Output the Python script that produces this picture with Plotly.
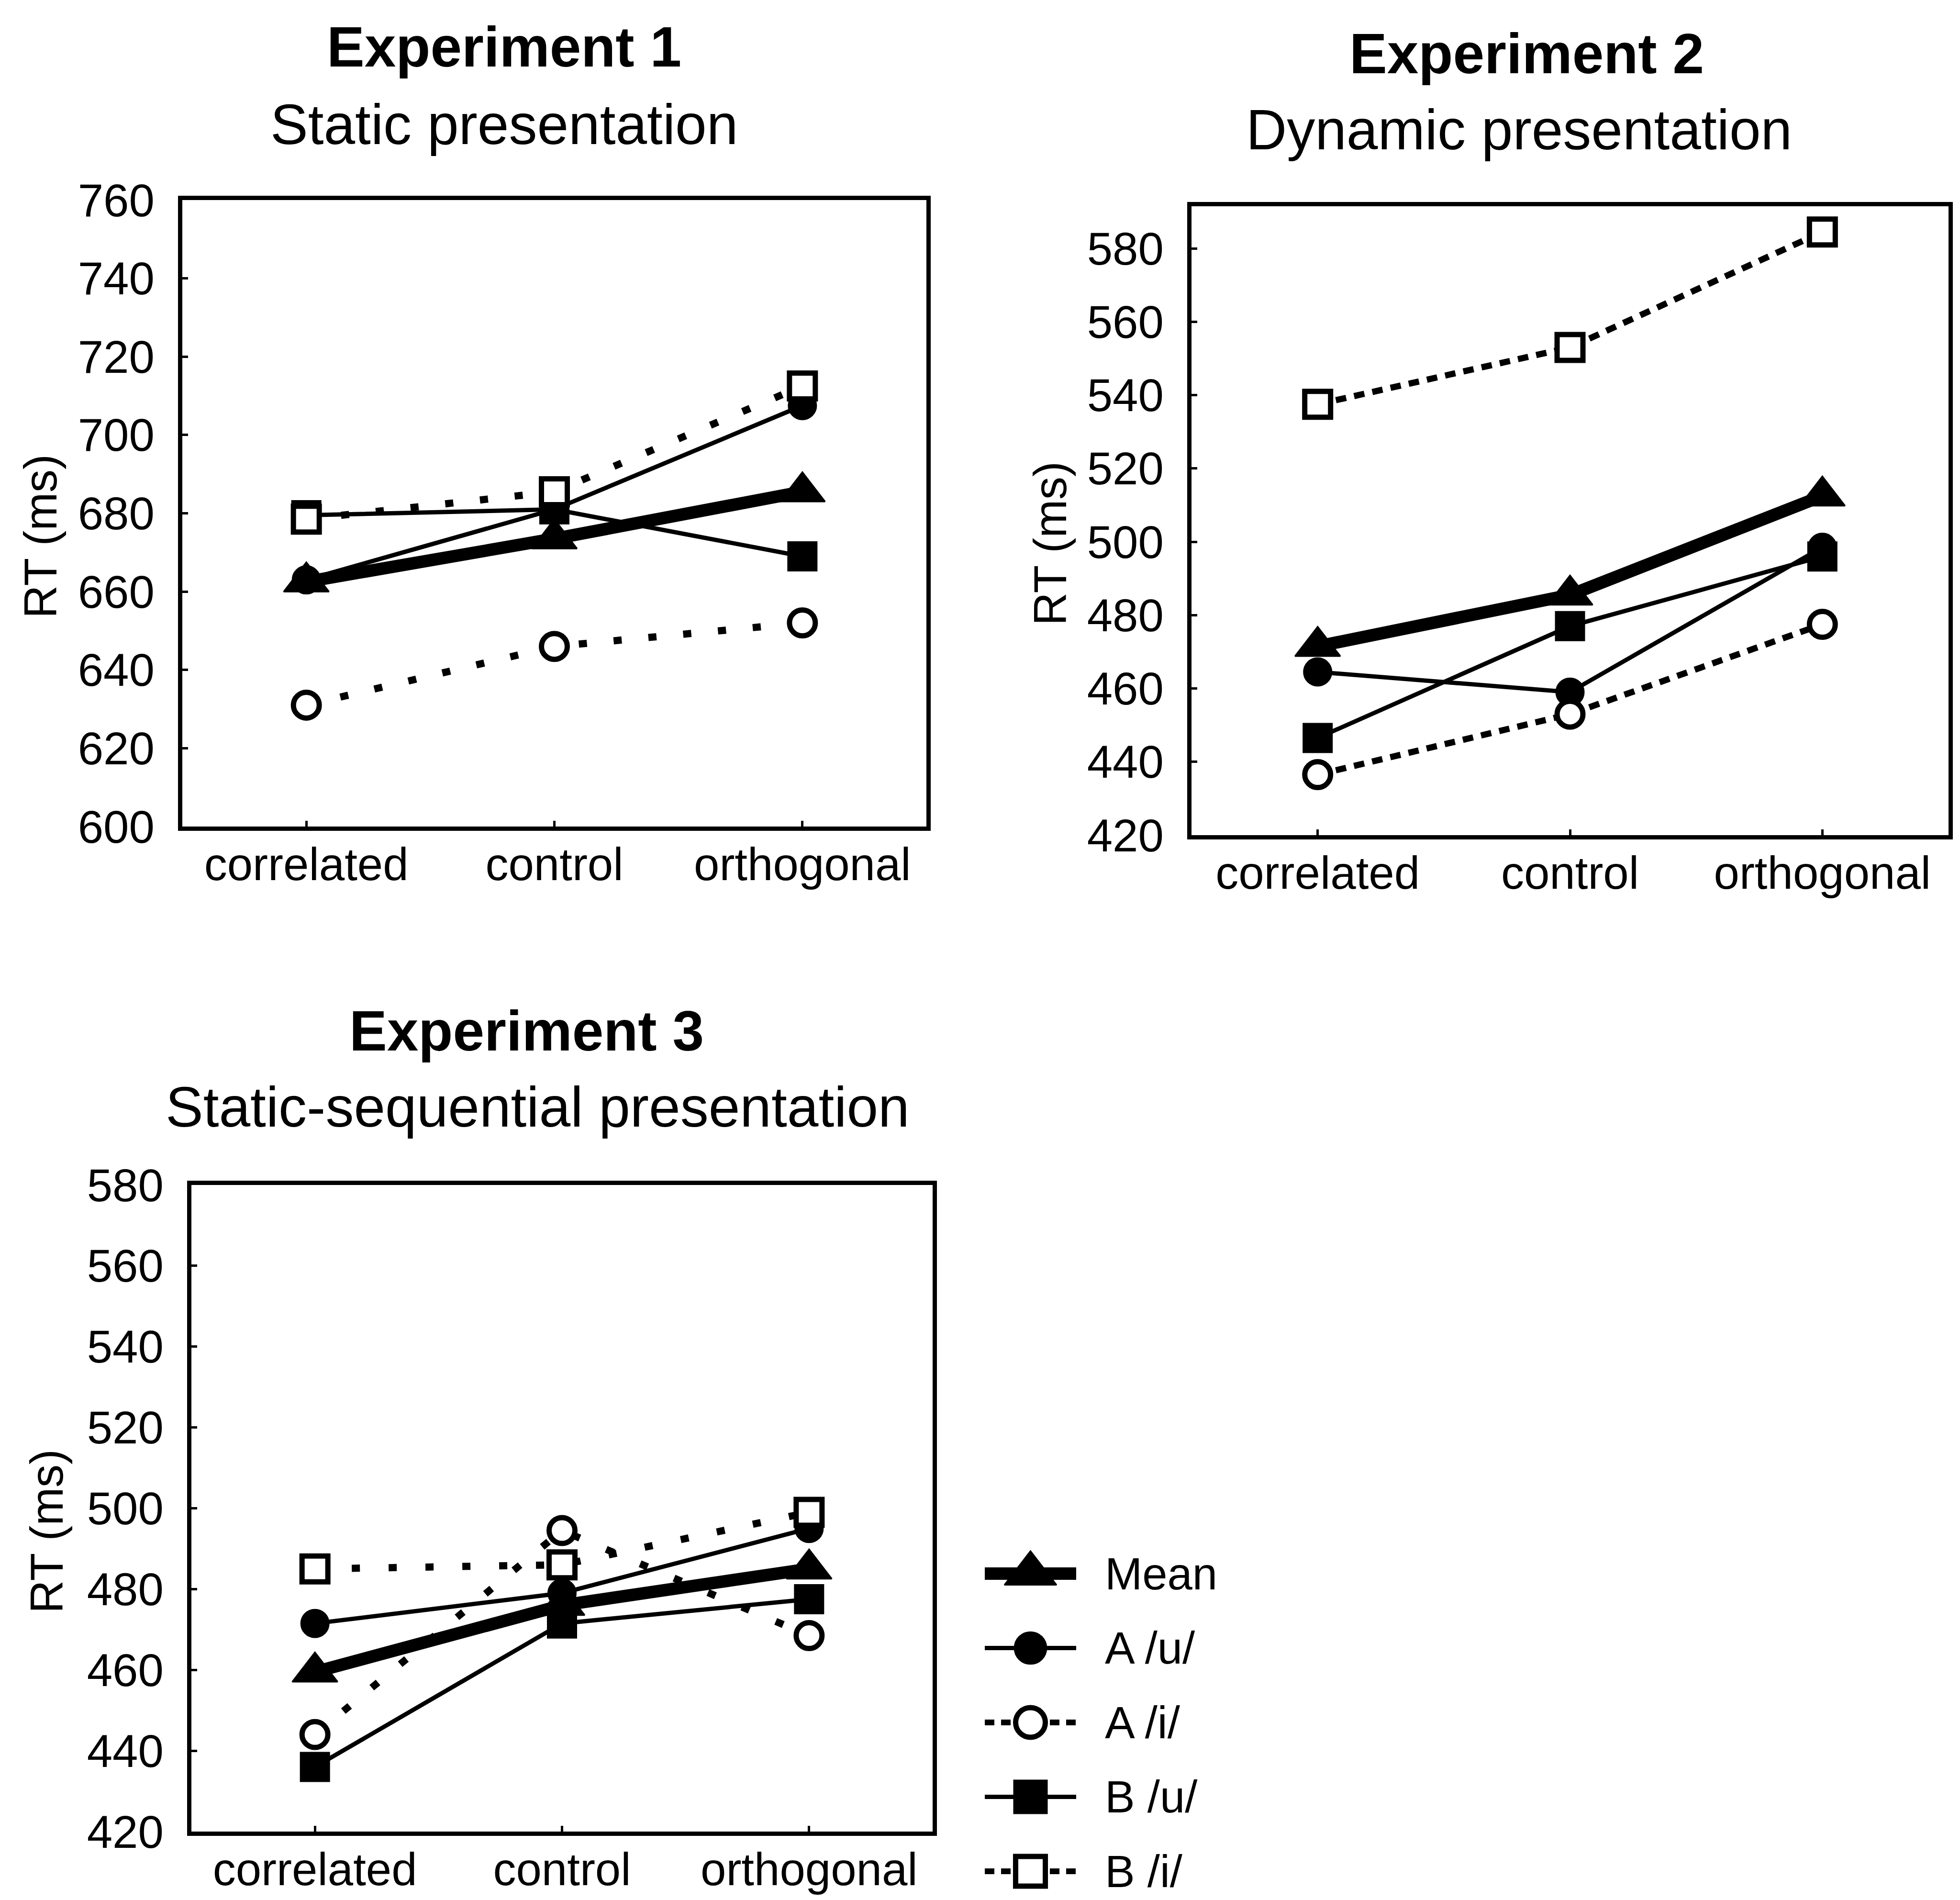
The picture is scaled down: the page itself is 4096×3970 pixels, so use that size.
import plotly.graph_objects as go

W, H = 4096, 3970

# ---------------- data ----------------
conditions = ["correlated", "control", "orthogonal"]
series_names = ["Mean", "A /u/", "A /i/", "B /u/", "B /i/"]

exp1_mean = [662.5, 673.5, 685.5]
exp1_a_u = [663, 681, 707.5]
exp1_a_i = [631, 646, 652]
exp1_b_u = [679.5, 681, 669]
exp1_b_i = [678.5, 685.5, 712.5]

exp2_mean = [471.5, 485.5, 512.5]
exp2_a_u = [464.5, 459, 498.5]
exp2_a_i = [436.5, 453, 477.5]
exp2_b_u = [446.5, 477, 496]
exp2_b_i = [537.5, 553, 584.5]

exp3_mean = [459.5, 476, 485]
exp3_a_u = [471.5, 479, 495]
exp3_a_i = [444, 494.5, 468.5]
exp3_b_u = [436, 471.5, 477.5]
exp3_b_i = [485, 486, 499]

yticks_exp1 = [600, 620, 640, 660, 680, 700, 720, 740, 760]
yticks_exp23 = [420, 440, 460, 480, 500, 520, 540, 560, 580]

titles_bold = ["Experiment 1", "Experiment 2", "Experiment 3"]
titles_sub = ["Static presentation", "Dynamic presentation", "Static-sequential presentation"]
y_title = "RT (ms)"

# ---------------- styles ----------------
FONT = "Liberation Sans, Arial, sans-serif"
BLACK = "#000000"
WHITE = "#ffffff"

def px_x(p):
    return p / W

def px_y(p):
    return 1 - p / H

panels = [
    dict(x0=373, x1=1928, ytop=410, ybot=1719, yr=[600, 760], ticks=yticks_exp1,
         data={"Mean": exp1_mean, "A /u/": exp1_a_u, "A /i/": exp1_a_i, "B /u/": exp1_b_u, "B /i/": exp1_b_i},
         dash_open="17px,56px", open_w=15),
    dict(x0=2482, x1=4064, ytop=423, ybot=1737, yr=[420, 591.5], ticks=yticks_exp23,
         data={"Mean": exp2_mean, "A /u/": exp2_a_u, "A /i/": exp2_a_i, "B /u/": exp2_b_u, "B /i/": exp2_b_i},
         dash_open="22px,17px", open_w=13),
    dict(x0=392, x1=1941, ytop=2468, ybot=3819, yr=[420, 580], ticks=yticks_exp23,
         data={"Mean": exp3_mean, "A /u/": exp3_a_u, "A /i/": exp3_a_i, "B /u/": exp3_b_u, "B /i/": exp3_b_i},
         dash_open="17px,60px", open_w=15),
]

style = {
    "Mean": dict(lw=26, dash="solid", symbol="triangle-up", size=82, fill=BLACK, mlw=3),
    "A /u/": dict(lw=9, dash="solid", symbol="circle", size=58, fill=BLACK, mlw=3),
    "A /i/": dict(lw=None, dash=None, symbol="circle", size=54, fill=WHITE, mlw=11),
    "B /u/": dict(lw=9, dash="solid", symbol="square", size=60, fill=BLACK, mlw=3),
    "B /i/": dict(lw=None, dash=None, symbol="square", size=54, fill=WHITE, mlw=11),
}
draw_order = ["A /u/", "B /u/", "Mean", "A /i/", "B /i/"]

fig = go.Figure()
layout = dict(
    template="none",
    width=W, height=H, autosize=False,
    margin=dict(l=0, r=0, t=0, b=0, pad=0, autoexpand=False),
    paper_bgcolor=WHITE, plot_bgcolor=WHITE,
    showlegend=False,
    font=dict(family=FONT, color=BLACK),
)

annotations = []
for i, p in enumerate(panels, start=1):
    xa = "x" if i == 1 else f"x{i}"
    ya = "y" if i == 1 else f"y{i}"
    for name in draw_order:
        st = style[name]
        lw = st["lw"] if st["lw"] is not None else p["open_w"]
        dash = st["dash"] if st["dash"] is not None else p["dash_open"]
        fig.add_trace(go.Scatter(
            x=conditions, y=p["data"][name], name=name, xaxis=xa, yaxis=ya,
            mode="lines+markers",
            line=dict(color=BLACK, width=lw, dash=dash),
            marker=dict(symbol=st["symbol"], size=st["size"], color=st["fill"],
                        line=dict(color=BLACK, width=st["mlw"])),
            cliponaxis=False,
        ))
    axis_common = dict(
        showline=True, linecolor=BLACK, linewidth=9, mirror=True,
        showgrid=False, zeroline=False, automargin=False,
        ticks="inside", ticklen=12, tickwidth=5, tickcolor=BLACK,
        tickfont=dict(family=FONT, size=96, color=BLACK),
    )
    layout["xaxis" if i == 1 else f"xaxis{i}"] = dict(
        axis_common, domain=[px_x(p["x0"]), px_x(p["x1"])], anchor=ya,
        type="category", categoryorder="array", categoryarray=conditions,
        range=[-0.5, 2.5], ticklabelstandoff=-12,
    )
    layout["yaxis" if i == 1 else f"yaxis{i}"] = dict(
        axis_common, domain=[px_y(p["ybot"]), px_y(p["ytop"])], anchor=xa,
        range=p["yr"], tickvals=p["ticks"], ticklabelstandoff=30,
    )

# titles
title_pos = [
    ((1045, 90), (1045, 252)),
    ((3182, 104), (3166, 263)),
    ((1092, 2146), (1115, 2305)),
]
for (b, s), tb, ts in zip(title_pos, titles_bold, titles_sub):
    annotations.append(dict(text=f"<b>{tb}</b>", x=px_x(b[0]), y=px_y(b[1]), xref="paper", yref="paper",
                            xanchor="center", yanchor="middle", showarrow=False,
                            font=dict(family=FONT, size=118, color=BLACK)))
    annotations.append(dict(text=ts, x=px_x(s[0]), y=px_y(s[1]), xref="paper", yref="paper",
                            xanchor="center", yanchor="middle", showarrow=False,
                            font=dict(family=FONT, size=118, color=BLACK)))

# y-axis titles
for (tx, ty) in [(76, 1113), (2186, 1128), (89, 3192)]:
    annotations.append(dict(text=y_title, x=px_x(tx), y=px_y(ty), xref="paper", yref="paper",
                            xanchor="center", yanchor="middle", textangle=-90, showarrow=False,
                            font=dict(family=FONT, size=96, color=BLACK)))

# ---------------- manual legend ----------------
row0, row_gap = 3280, 155.5
leg_top, leg_bot = 3200, 3960
leg_x0, leg_x1 = 2050, 2241
layout["xaxis4"] = dict(domain=[px_x(leg_x0), px_x(leg_x1)], range=[0, 1], visible=False,
                        anchor="y4", fixedrange=True, automargin=False)
layout["yaxis4"] = dict(domain=[px_y(leg_bot), px_y(leg_top)],
                        range=[(leg_bot - row0) / row_gap, (leg_top - row0) / row_gap],
                        visible=False, anchor="x4", fixedrange=True, automargin=False)
leg_dash = "20px,14px"
leg_scale = 1.15
for k, name in enumerate(series_names):
    st = style[name]
    lw = st["lw"] if st["lw"] is not None else 12
    dash = st["dash"] if st["dash"] is not None else leg_dash
    fig.add_trace(go.Scatter(x=[0, 1], y=[k, k], xaxis="x4", yaxis="y4", mode="lines",
                             line=dict(color=BLACK, width=lw, dash=dash), cliponaxis=False,
                             hoverinfo="skip"))
    fig.add_trace(go.Scatter(x=[0.5], y=[k], xaxis="x4", yaxis="y4", mode="markers", name=name,
                             marker=dict(symbol=st["symbol"], size=st["size"] * leg_scale, color=st["fill"],
                                         line=dict(color=BLACK, width=st["mlw"])),
                             cliponaxis=False))
    annotations.append(dict(text=name, x=px_x(2299), y=k, xref="paper", yref="y4",
                            xanchor="left", yanchor="middle", showarrow=False,
                            font=dict(family=FONT, size=94, color=BLACK)))

layout["annotations"] = annotations
fig.update_layout(**layout)
fig.write_html("out.html")
